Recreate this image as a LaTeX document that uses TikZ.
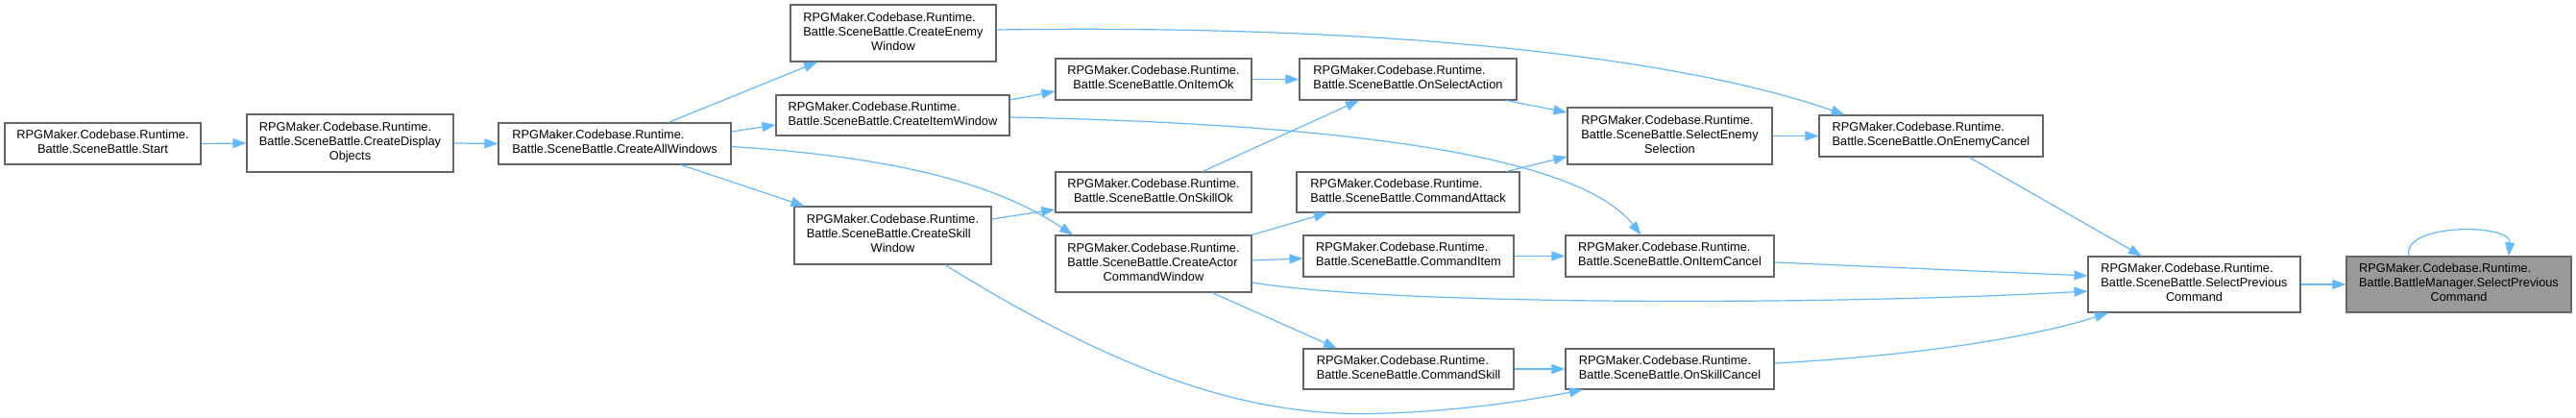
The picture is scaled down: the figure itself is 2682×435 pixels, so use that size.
\documentclass[tikz,border=0pt]{standalone}
\usepackage{fontspec}
\setmainfont{Liberation Sans}
\usetikzlibrary{arrows.meta}
\definecolor{edgeblue}{HTML}{63B8FF}
\definecolor{boxgray}{HTML}{666666}
\definecolor{curgray}{HTML}{999999}
\newcommand{\dlbl}[2]{\begin{tabular}{@{}l@{}}#1\\\multicolumn{1}{@{}c@{}}{#2}\end{tabular}}
\newcommand{\rpg}{RPGMaker.Codebase.Runtime.}
\begin{document}
\begin{tikzpicture}[x=1pt,y=-1pt,
  fn/.style={draw=boxgray, line width=1.1pt, fill=white, rectangle, inner sep=0pt,
    font=\fontsize{12.8}{15}\selectfont},
  cur/.style={fn, fill=curgray},
  edg/.style={draw=edgeblue, line width=1.2pt, -{Triangle[length=14pt,width=10pt]}}]
\useasboundingbox (0,0) rectangle (2682,435);

% nodes
\node[fn, minimum width=204pt, minimum height=43pt] (start) at (107,149.5) {\dlbl{\rpg}{Battle.SceneBattle.Start}};
\node[fn, minimum width=215pt, minimum height=60pt] (cdo) at (364.5,149) {\dlbl{\rpg\\Battle.SceneBattle.CreateDisplay}{Objects}};
\node[fn, minimum width=242pt, minimum height=43pt] (caw) at (640,149.5) {\dlbl{\rpg}{Battle.SceneBattle.CreateAllWindows}};
\node[fn, minimum width=214pt, minimum height=59pt] (cew) at (930,34.5) {\dlbl{\rpg\\Battle.SceneBattle.CreateEnemy}{Window}};
\node[fn, minimum width=243pt, minimum height=42pt] (ciw) at (929.5,120) {\dlbl{\rpg}{Battle.SceneBattle.CreateItemWindow}};
\node[fn, minimum width=205pt, minimum height=60pt] (csw) at (929.5,245) {\dlbl{\rpg\\Battle.SceneBattle.CreateSkill}{Window}};
\node[fn, minimum width=204pt, minimum height=43pt] (oio) at (1201,82.5) {\dlbl{\rpg}{Battle.SceneBattle.OnItemOk}};
\node[fn, minimum width=204pt, minimum height=42pt] (oso) at (1201,200) {\dlbl{\rpg}{Battle.SceneBattle.OnSkillOk}};
\node[fn, minimum width=204pt, minimum height=59pt] (cacw) at (1201,274.5) {\dlbl{\rpg\\Battle.SceneBattle.CreateActor}{CommandWindow}};
\node[fn, minimum width=226pt, minimum height=43pt] (osa) at (1466,82.5) {\dlbl{\rpg}{Battle.SceneBattle.OnSelectAction}};
\node[fn, minimum width=232pt, minimum height=42pt] (cat) at (1466,200) {\dlbl{\rpg}{Battle.SceneBattle.CommandAttack}};
\node[fn, minimum width=219pt, minimum height=43pt] (cit) at (1466.5,266.5) {\dlbl{\rpg}{Battle.SceneBattle.CommandItem}};
\node[fn, minimum width=219pt, minimum height=42pt] (csk) at (1466.5,384) {\dlbl{\rpg}{Battle.SceneBattle.CommandSkill}};
\node[fn, minimum width=213pt, minimum height=59pt] (ses) at (1738.5,141.5) {\dlbl{\rpg\\Battle.SceneBattle.SelectEnemy}{Selection}};
\node[fn, minimum width=217pt, minimum height=43pt] (oic) at (1738.5,266.5) {\dlbl{\rpg}{Battle.SceneBattle.OnItemCancel}};
\node[fn, minimum width=217pt, minimum height=42pt] (osc) at (1738.5,384) {\dlbl{\rpg}{Battle.SceneBattle.OnSkillCancel}};
\node[fn, minimum width=233pt, minimum height=43pt] (oec) at (2010.5,141.5) {\dlbl{\rpg}{Battle.SceneBattle.OnEnemyCancel}};
\node[fn, minimum width=221pt, minimum height=58pt] (spc) at (2284.5,296) {\dlbl{\rpg\\Battle.SceneBattle.SelectPrevious}{Command}};
\node[cur, minimum width=234pt, minimum height=58pt] (bm) at (2560,296) {\dlbl{\rpg\\Battle.BattleManager.SelectPrevious}{Command}};

% edges
\draw[edg] (start.east) -- (cdo.west);
\draw[edg] (cdo.east) -- (caw.west);
\draw[edg] ([xshift=56pt]caw.north) -- ([xshift=-79pt]cew.south);
\draw[edg] ([yshift=12.5pt]caw.east) -- ([yshift=-10pt]ciw.west);
\draw[edg] ([yshift=-3pt]caw.east) .. controls (960,165) and (1050,200) .. ([xshift=-84pt]cacw.north);
\draw[edg] ([xshift=69pt]caw.south) -- ([xshift=-92pt]csw.north);
\draw[edg] ([yshift=3.5pt]cew.east) .. controls (1450,25) and (1750,60) .. ([xshift=-90pt]oec.north);
\draw[edg] ([yshift=16pt]ciw.east) -- ([yshift=-12.5pt]oio.west);
\draw[edg] ([yshift=-2pt]ciw.east) .. controls (1450,130) and (1650,170) .. ([xshift=-30pt]oic.north);
\draw[edg] (oio.east) -- (osa.west);
\draw[edg] ([xshift=51pt]oso.north) -- ([xshift=-51pt]osa.south);
\draw[edg] ([xshift=-11pt]osa.south east) -- ([yshift=24.5pt]ses.west);
\draw[edg] ([xshift=-14pt]cat.north east) -- ([yshift=-21.5pt]ses.west);
\draw[edg] (ses.east) -- (oec.west);
\draw[edg] ([yshift=17pt]csw.east) -- ([yshift=-18pt]oso.west);
\draw[edg] ([xshift=54.5pt]csw.south) .. controls (1200,410) and (1330,435) .. (1445,430) .. controls (1530,427) and (1600,415) .. ([xshift=-90.5pt]osc.south);
\draw[edg] (cacw.north east) -- ([xshift=-84pt]cat.south);
\draw[edg] ([yshift=3.5pt]cacw.east) -- ([yshift=-2.5pt]cit.west);
\draw[edg] ([xshift=61pt]cacw.south) -- ([xshift=-74.5pt]csk.north);
\draw[edg] ([yshift=-19.5pt]cacw.east) .. controls (1450,318) and (1900,318) .. ([yshift=-7pt]spc.west);
\draw[edg] (cit.east) -- (oic.west);
\draw[edg] (csk.east) -- (osc.west);
\draw[edg] ([yshift=-6.5pt]oic.east) -- ([yshift=9pt]spc.west);
\draw[edg] ([yshift=6pt]osc.east) .. controls (2000,370) and (2120,350) .. ([xshift=-89.5pt]spc.south);
\draw[edg] ([xshift=39.5pt]oec.south) -- ([xshift=-54.5pt]spc.north);
\draw[edg] (spc.east) -- (bm.west);
\draw[edg] ([xshift=-52pt]bm.north) .. controls (2500,232) and (2615,232) .. ([xshift=52pt]bm.north);
\end{tikzpicture}
\end{document}
